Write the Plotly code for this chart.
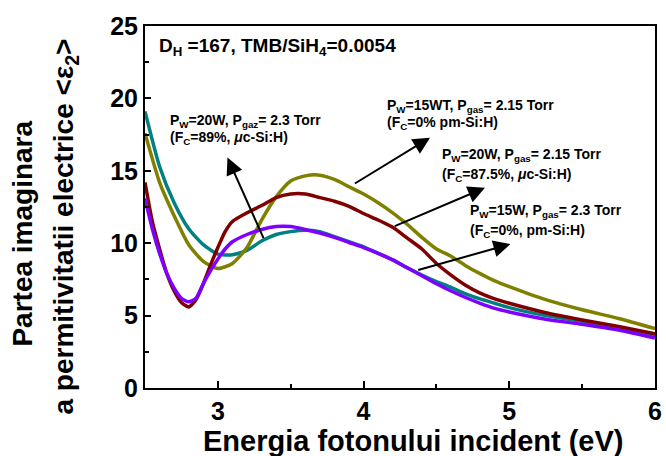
import plotly.graph_objects as go

# ---- data ----
energy_a = [2.5, 2.6, 2.7, 2.8, 2.9, 3.0, 3.1, 3.2, 3.3, 3.4, 3.5, 3.6, 3.7, 3.8, 3.9,
            4.0, 4.1, 4.2, 4.3, 4.4, 4.5, 4.6, 4.7, 4.8, 4.9, 5.0, 5.25, 5.5, 5.75, 6.0]
teal_eps2 = [19.1, 15.3, 12.8, 11.0, 9.9, 9.25, 9.2, 9.5, 10.15, 10.6, 10.8, 10.9, 10.8, 10.45, 10.1,
             9.75, 9.3, 8.85, 8.3, 7.8, 7.35, 6.95, 6.5, 6.15, 5.85, 5.55, 5.0, 4.6, 4.15, 3.6]
olive_eps2 = [17.6, 14.2, 11.9, 9.9, 8.75, 8.25, 8.6, 9.7, 11.6, 13.2, 14.3, 14.65, 14.7, 14.4, 13.9,
              13.4, 12.8, 12.1, 11.3, 10.4, 9.6, 9.1, 8.45, 7.9, 7.4, 7.0, 6.1, 5.4, 4.8, 4.1]

energy_b = [2.5, 2.55, 2.6, 2.65, 2.7, 2.75, 2.8, 2.85, 2.9, 2.95, 3.0, 3.05, 3.1, 3.2, 3.3, 3.4,
            3.5, 3.6, 3.7, 3.8, 3.9, 4.0, 4.1, 4.2, 4.3, 4.4, 4.5, 4.6, 4.7, 4.8, 4.9, 5.0,
            5.25, 5.5, 5.75, 6.0]
violet_eps2 = [13.1, 11.0, 9.3, 7.9, 6.9, 6.2, 5.95, 6.2, 7.2, 8.1, 8.9, 9.6, 10.1, 10.6, 10.95, 11.15,
               11.15, 10.95, 10.7, 10.4, 10.05, 9.7, 9.3, 8.85, 8.3, 7.75, 7.2, 6.7, 6.25, 5.85, 5.5, 5.25,
               4.75, 4.4, 4.0, 3.45]
red_eps2 = [14.2, 11.5, 9.6, 7.9, 6.7, 5.9, 5.6, 6.1, 7.2, 8.5, 9.7, 10.8, 11.5, 12.1, 12.6, 13.15,
            13.4, 13.4, 13.15, 12.9, 12.55, 12.05, 11.6, 11.1, 10.35, 9.6, 8.6, 7.8, 7.1, 6.55, 6.15, 5.85,
            5.2, 4.7, 4.25, 3.75]

x_ticks = [3, 4, 5, 6]
y_ticks = [0, 5, 10, 15, 20, 25]

FONT = "Liberation Sans, Arial, sans-serif"

series = [
    (energy_a, teal_eps2, "#008080"),
    (energy_a, olive_eps2, "#808000"),
    (energy_b, red_eps2, "#800000"),
    (energy_b, violet_eps2, "#8000FF"),
]

fig = go.Figure()
for xs, ys, col in series:
    fig.add_trace(go.Scatter(x=xs, y=ys, mode="lines",
                             line=dict(color=col, width=3.5, shape="spline", smoothing=0.6),
                             showlegend=False, hoverinfo="skip"))

# text labels: (x, y, text, size)
labels = [
    (2.584, 23.55, "D<sub>H</sub> =167, TMB/SiH<sub>4</sub>=0.0054", 19),
    (2.659, 18.42, "P<sub>W</sub>=20W, P<sub>gaz</sub>= 2.3 Torr", 14),
    (2.659, 17.24, "(F<sub>C</sub>=89%, <i>μ</i>c-Si:H)", 14),
    (4.148, 19.48, "P<sub>W</sub>=15WT, P<sub>gas</sub>= 2.15 Torr", 14),
    (4.148, 18.28, "(F<sub>C</sub>=0% pm-Si:H)", 14),
    (4.525, 16.12, "P<sub>W</sub>=20W, P<sub>gas</sub>= 2.15 Torr", 14),
    (4.525, 14.68, "(F<sub>C</sub>=87.5%, <i>μ</i>c-Si:H)", 14),
    (4.719, 12.19, "P<sub>W</sub>=15W, P<sub>gas</sub>= 2.3 Torr", 14),
    (4.719, 10.87, "(F<sub>C</sub>=0%, pm-Si:H)", 14),
]
# arrows: (head_x, head_y, tail_x, tail_y)
arrows = [
    (3.066, 15.91, 3.318, 10.25),
    (4.456, 17.29, 3.930, 14.06),
    (4.833, 13.83, 4.204, 11.13),
    (5.008, 9.94, 4.365, 8.12),
]

for x, y, t, s in labels:
    fig.add_annotation(x=x, y=y, xref="x", yref="y", text="<b>" + t + "</b>", showarrow=False,
                       xanchor="left", yanchor="middle", font=dict(family=FONT, size=s, color="black"))
for hx, hy, tx, ty in arrows:
    fig.add_annotation(x=hx, y=hy, ax=tx, ay=ty, xref="x", yref="y", axref="x", ayref="y",
                       text="", showarrow=True, arrowhead=2, arrowsize=1.7, arrowwidth=2,
                       arrowcolor="black", standoff=0, startstandoff=0)

# y title (two lines)
fig.add_annotation(x=-0.241, y=0.4268, xref="paper", yref="paper", text="<b>Partea imaginara</b>",
                   textangle=-90, showarrow=False, xanchor="center", yanchor="middle",
                   font=dict(family=FONT, size=28, color="black"))
fig.add_annotation(x=-0.155, y=0.446, xref="paper", yref="paper",
                   text="<b>a permitivitatii electrice &lt;ε<sub>2</sub>&gt;</b>",
                   textangle=-90, showarrow=False, xanchor="center", yanchor="middle",
                   font=dict(family=FONT, size=28, color="black"))
# x title
fig.add_annotation(x=0.527, y=-0.146, xref="paper", yref="paper",
                   text="<b>Energia fotonului incident (eV)</b>", showarrow=False,
                   xanchor="center", yanchor="middle", font=dict(family=FONT, size=29, color="black"))

fig.update_xaxes(range=[2.5, 6], tickvals=x_ticks, ticktext=["<b>%d</b>" % v for v in x_ticks],
                 ticks="inside", ticklen=7, tickwidth=2, tickcolor="black",
                 minor=dict(dtick=0.5, ticks="inside", ticklen=4, tickwidth=2, tickcolor="black"),
                 showline=True, linewidth=2, linecolor="black", mirror=True, showgrid=False,
                 zeroline=False, automargin=False, tickfont=dict(family=FONT, size=25, color="black"))
fig.update_yaxes(range=[0, 25], tickvals=y_ticks, ticktext=["<b>%d</b>" % v for v in y_ticks],
                 ticks="inside", ticklen=6, tickwidth=2, tickcolor="black",
                 minor=dict(dtick=2.5, ticks="inside", ticklen=4, tickwidth=2, tickcolor="black"),
                 showline=True, linewidth=2, linecolor="black", mirror=True, showgrid=False,
                 zeroline=False, automargin=False, tickfont=dict(family=FONT, size=25, color="black"))

fig.update_layout(width=666, height=456, margin=dict(l=145, r=11, t=26, b=68),
                  plot_bgcolor="white", paper_bgcolor="white", showlegend=False)

fig.write_html("out.html")
